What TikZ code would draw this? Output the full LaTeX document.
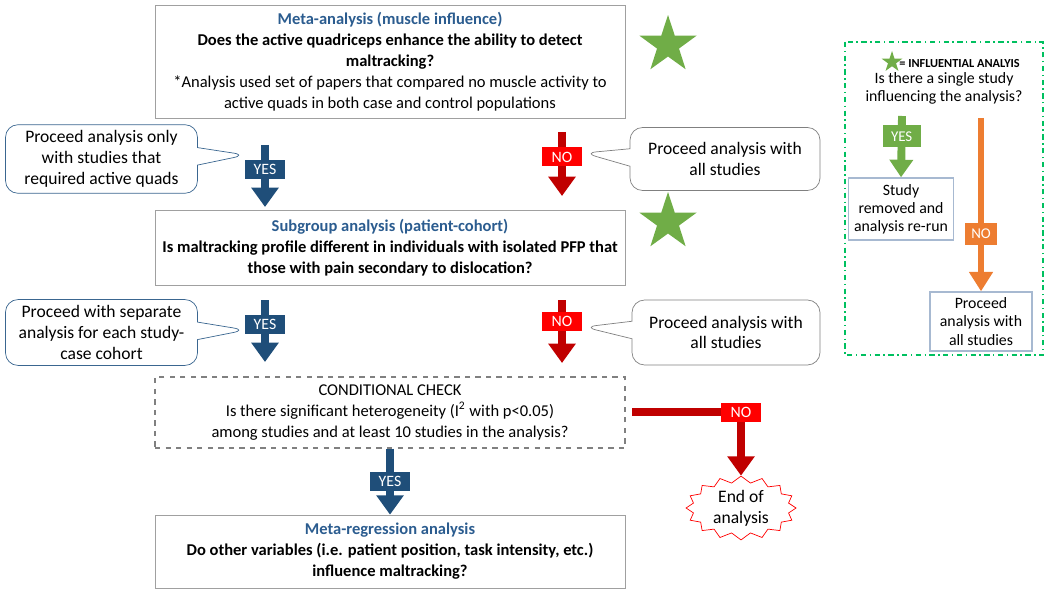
\documentclass[tikz,border=0pt]{standalone}
\usepackage{fontspec}
\setmainfont{Carlito}
\usetikzlibrary{arrows.meta,shapes.geometric,shapes.callouts,shapes.symbols}

\definecolor{titleblue}{HTML}{2B5C8F}
\definecolor{yesblue}{HTML}{1F4E79}
\definecolor{nodark}{HTML}{C00000}
\definecolor{nolight}{HTML}{FF0000}
\definecolor{stargreen}{HTML}{70AD47}
\definecolor{legendgreen}{HTML}{00C060}
\definecolor{noorange}{HTML}{ED7D31}
\definecolor{boxgray}{HTML}{A0A0A0}
\definecolor{calloutblue}{HTML}{3A6690}
\definecolor{legendbox}{HTML}{A7B9D1}

\tikzset{
    mainbox/.style={draw=boxgray, minimum width=9.4cm, align=center,
        font=\fontsize{9.4}{11.9}\selectfont, inner sep=2pt},
    bubble/.style={rectangle callout, rounded corners=2.5mm, draw, fill=white,
        align=center, minimum width=3.84cm, minimum height=1.26cm,
        callout pointer width=0.35cm, font=\fontsize{10}{11.9}\selectfont},
    yesarrow/.style={draw=yesblue, line width=4.5pt, -{Triangle[width=15pt, length=11pt]}},
    noarrow/.style={draw=nodark, line width=4.5pt, -{Triangle[width=15pt, length=11pt]}},
    yeslabel/.style={fill=yesblue, text=white, minimum width=0.8cm, minimum height=0.38cm,
        inner sep=1pt, font=\fontsize{9}{10}\selectfont},
    nolabel/.style={fill=nolight, text=white, minimum width=0.8cm, minimum height=0.38cm,
        inner sep=1pt, font=\fontsize{9}{10}\selectfont},
    bigstar/.style={star, star points=5, star point ratio=2.6, fill=stargreen,
        minimum size=1.2cm, inner sep=0pt},
    legendbox/.style={draw=legendbox, thick, align=center, minimum width=1.96cm,
        font=\fontsize{9}{10.3}\selectfont},
}

\begin{document}
\begin{tikzpicture}[x=0.02cm, y=-0.02cm]
    \useasboundingbox (0,0) rectangle (1050,594);

    % main flow
    \node[mainbox, minimum height=2.26cm] (MetaAnalysis) at (390,61.5) {
        \textcolor{titleblue}{\textbf{Meta-analysis (muscle influence)}}\\
        \textbf{Does the active quadriceps enhance the ability to detect}\\
        \textbf{maltracking?}\\
        *Analysis used set of papers that compared no muscle activity to\\
        active quads in both case and control populations
    };
    \node[mainbox, minimum height=1.5cm] (Subgroup) at (390,247.5) {
        \textcolor{titleblue}{\textbf{Subgroup analysis (patient-cohort)}}\\
        \textbf{Is maltracking profile different in individuals with isolated PFP that}\\
        \textbf{those with pain secondary to dislocation?}
    };
    \node[mainbox, draw=gray, dashed, thick, minimum height=1.42cm] (CondCheck) at (390,412.5) {
        CONDITIONAL CHECK\\
        Is there significant heterogeneity (I\textsuperscript{2} with p<0.05)\\
        among studies and at least 10 studies in the analysis?
    };
    \node[mainbox, minimum height=1.46cm] (MetaRegression) at (390,551.5) {
        \textcolor{titleblue}{\textbf{Meta-regression analysis}}\\
        \textbf{Do other variables (i.e. patient position, task intensity, etc.)}\\
        \textbf{influence maltracking?}
    };

    \node[bigstar] (StarOne) at (668,45) {};
    \node[bigstar] (StarTwo) at (668,222) {};

    % side notes
    \node[bubble, draw=calloutblue, callout absolute pointer={(246,155)}] (OnlyActive) at (101.5,159) {
        Proceed analysis only\\ with studies that\\ required active quads
    };
    \node[bubble, draw=gray, callout absolute pointer={(584,153)}, minimum width=3.8cm] (AllOne) at (725,159) {
        Proceed analysis with\\ all studies
    };
    \node[bubble, draw=calloutblue, minimum height=1.3cm, callout absolute pointer={(246,330)}] (Separate) at (101.5,332.5) {
        Proceed with separate\\ analysis for each study-\\ case cohort
    };
    \node[bubble, draw=gray, minimum height=1.3cm, callout absolute pointer={(584,327)}, minimum width=3.76cm] (AllTwo) at (726,332.5) {
        Proceed analysis with\\ all studies
    };

    % yes / no arrows
    \coordinate (YesOneA) at (265,145);
    \coordinate (NoOneA) at (562,132);
    \coordinate (YesTwoA) at (265,300);
    \coordinate (NoTwoA) at (562,300);
    \coordinate (NoThreeA) at (632,412);

    \draw[yesarrow] (YesOneA) -- (265,207) node[pos=0.39, yeslabel] (YesOne) {YES};
    \draw[noarrow] (NoOneA) -- (562,196) node[pos=0.39, nolabel] (NoOne) {NO};
    \draw[yesarrow] (YesTwoA) -- (265,362) node[pos=0.39, yeslabel] (YesTwo) {YES};
    \draw[noarrow] (NoTwoA) -- (562,363) node[pos=0.34, nolabel] (NoTwo) {NO};
    \draw[yesarrow] (CondCheck.south) -- (MetaRegression.north) node[pos=0.5, yeslabel] (YesThree) {YES};

    \node[starburst, draw=nolight, fill=white, random starburst=0, starburst points=16,
        starburst point height=0.13cm, minimum width=2.2cm, minimum height=1.05cm, align=center,
        inner sep=0pt, font=\fontsize{10}{11.9}\selectfont] (EndAnalysis) at (741,508) {End of\\ analysis};
    \draw[noarrow] (NoThreeA) -| (EndAnalysis.north) node[pos=0.5, nolabel] (NoThree) {NO};

    % legend
    \draw[legendgreen, thick, dash dot] (845,42) rectangle (1043,355);
    \node[star, star points=5, star point ratio=2.6, fill=stargreen, minimum size=0.44cm, inner sep=0pt] (StarKey) at (892,62) {};
    \node[anchor=west, inner sep=0pt, font=\fontsize{7}{8}\selectfont\bfseries] (KeyText) at (899,64) {= INFLUENTIAL ANALYIS};
    \node[align=center, font=\fontsize{9}{10.3}\selectfont] (SingleStudy) at (944,88) {
        Is there a single study\\ influencing the analysis?
    };
    \node[legendbox, minimum height=1.24cm] (Removed) at (901,209) {
        Study\\ removed and\\ analysis re-run
    };
    \node[legendbox, minimum width=2.04cm, minimum height=1.02cm] (AllStudies) at (981,321.5) {
        Proceed\\ analysis with\\ all studies
    };
    \draw[draw=stargreen, line width=4.5pt, -{Triangle[width=13pt, length=10pt]}] (902,116) -- (Removed.north)
        node[pos=0.33, fill=stargreen, text=white, minimum width=0.76cm, minimum height=0.44cm, inner sep=1pt,
        font=\fontsize{8.5}{10}\selectfont] (YesKey) {YES};
    \draw[draw=noorange, line width=3.5pt, -{Triangle[width=13pt, length=11pt]}] (981,118) -- (AllStudies.north)
        node[pos=0.67, fill=noorange, text=white, minimum width=0.64cm, minimum height=0.44cm, inner sep=1pt,
        font=\fontsize{8.5}{10}\selectfont] (NoKey) {NO};
\end{tikzpicture}
\end{document}
